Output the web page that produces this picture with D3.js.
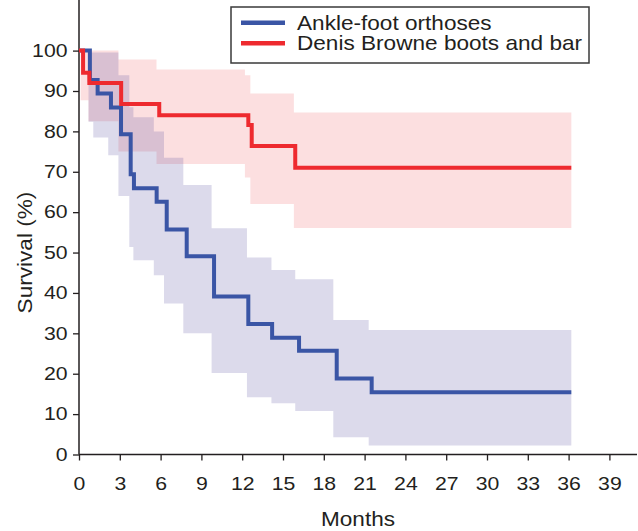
<!DOCTYPE html>
<html>
<head>
<meta charset="utf-8">
<script src="https://cdn.jsdelivr.net/npm/d3@7"></script>
<style>
	body { margin: 0; background: #fff; }
	svg text { font-family: "Liberation Sans", Arial, sans-serif; fill: #231f20; }
</style>
</head>
<body>
<svg id="chart" width="638" height="531"></svg>
<script>
// Kaplan-Meier steps (months, survival %)
const afoTime = [0, 0.8, 1.37, 2.35, 3.09, 3.8, 4.04, 5.71, 6.45, 7.92, 9.93, 12.45, 14.2, 16.18, 18.95, 21.52, 36.2];
const afoSurv = [100, 92.7, 89.4, 85.9, 79.3, 69.4, 65.9, 62.6, 55.7, 49.1, 39.1, 32.3, 28.9, 25.7, 18.8, 15.4, 15.4];
const afoBandTime = [0.7, 1.05, 2.15, 2.9, 3.7, 4.0, 5.5, 6.25, 7.67, 9.75, 12.35, 14.15, 15.9, 18.7, 21.3, 36.2];
const afoLower = [82.4, 78.5, 74.1, 64, 51.4, 48.1, 44.4, 37.4, 30, 20.2, 14.2, 12.7, 10.8, 4.3, 2.2, 2.2];
const afoUpper = [99.5, 99.5, 99.5, 93.9, 86, 83.5, 80, 73.5, 66.7, 56, 48.8, 45.7, 43.4, 33.3, 30.8, 30.8];

const dbbTime = [0, 0.3, 0.76, 3.1, 5.9, 12.45, 12.7, 15.9, 36.2];
const dbbSurv = [100, 94.5, 92, 86.8, 84, 81.6, 76.4, 71, 71];
const dbbBandTime = [0.12, 0.7, 2.9, 5.7, 12.2, 12.6, 15.8, 36.2];
const dbbLower = [87.7, 82.5, 75, 71.9, 68.6, 62, 56.1, 56.1];
const dbbUpper = [100, 100, 97.8, 95.3, 93.9, 89.4, 84.7, 84.7];

const monthTicks = d3.range(0, 40, 3);
const survivalTicks = d3.range(0, 101, 10);
const seriesNames = ["Ankle-foot orthoses", "Denis Browne boots and bar"];

const stretch = 1.13; // the figure's type is a little wider than Liberation Sans
const tickStretch = 1.18;

const svg = d3.select("#chart");
const x = d3.scaleLinear().domain([0, 39]).range([79, 609.4]);
const y = d3.scaleLinear().domain([0, 100]).range([454.5, 50.6]);

const zip = (t, a, b) => t.map((d, i) => ({ t: d, a: a[i], b: b ? b[i] : null }));

const band = d3.area()
	.curve(d3.curveStepAfter)
	.x(d => x(d.t))
	.y0(d => y(d.a))
	.y1(d => y(d.b));
const line = d3.line()
	.curve(d3.curveStepAfter)
	.x(d => x(d.t))
	.y(d => y(d.a));

// confidence bands
svg.append("path")
	.attr("d", band(zip(dbbBandTime, dbbLower, dbbUpper)))
	.attr("fill", "rgb(235,40,45)")
	.attr("fill-opacity", 0.15);
svg.append("path")
	.attr("d", band(zip(afoBandTime, afoLower, afoUpper)))
	.attr("fill", "rgb(70,60,150)")
	.attr("fill-opacity", 0.19);

// axes
const yAxis = svg.append("g")
	.attr("transform", `translate(${x(0)},0)`)
	.call(d3.axisLeft(y).tickValues(survivalTicks).tickSize(6).tickPadding(5));
const xAxis = svg.append("g")
	.attr("transform", `translate(0,${y(0)})`)
	.call(d3.axisBottom(x).tickValues(monthTicks).tickSize(6).tickPadding(17));

[yAxis, xAxis].forEach(g => {
	g.select(".domain").remove();
	g.selectAll(".tick line").attr("stroke", "#231f20").attr("stroke-width", 1.3);
	g.selectAll(".tick text")
		.attr("font-size", 18)
		.attr("fill", "#231f20")
		.attr("transform", `scale(${tickStretch},1)`);
});
yAxis.selectAll(".tick text").attr("x", -11.5 / tickStretch);

svg.append("line")
	.attr("x1", x(0)).attr("x2", x(0))
	.attr("y1", 0).attr("y2", y(0))
	.attr("stroke", "#231f20").attr("stroke-width", 1.5);
svg.append("line")
	.attr("x1", x(0)).attr("x2", 637)
	.attr("y1", y(0)).attr("y2", y(0))
	.attr("stroke", "#231f20").attr("stroke-width", 1.5);

// survival curves
svg.append("path")
	.attr("d", line(zip(afoTime, afoSurv)))
	.attr("fill", "none")
	.attr("stroke", "#3a55a5")
	.attr("stroke-width", 4);
svg.append("path")
	.attr("d", line(zip(dbbTime, dbbSurv)))
	.attr("fill", "none")
	.attr("stroke", "#ee2a2f")
	.attr("stroke-width", 4);

// axis titles
svg.append("text")
	.attr("transform", `translate(${(x(0) + 637) / 2},526) scale(${stretch},1)`)
	.attr("text-anchor", "middle")
	.attr("font-size", 20)
	.text("Months");
svg.append("text")
	.attr("transform", `translate(32,${(y(0) + y(100)) / 2}) rotate(-90) scale(${stretch},1)`)
	.attr("text-anchor", "middle")
	.attr("font-size", 20)
	.text("Survival (%)");

// legend
const legend = svg.append("g").attr("transform", "translate(231,7)");
legend.append("rect")
	.attr("width", 358)
	.attr("height", 56)
	.attr("fill", "#fff")
	.attr("stroke", "#3a3a3a")
	.attr("stroke-width", 1.5);
const items = legend.selectAll(".item")
	.data(seriesNames)
	.join("g")
	.attr("class", "item")
	.attr("transform", (d, i) => `translate(0,${15.8 + i * 20.5})`);
items.append("line")
	.attr("x1", 10).attr("x2", 54)
	.attr("stroke", (d, i) => ["#3a55a5", "#ee2a2f"][i])
	.attr("stroke-width", 4.5);
items.append("text")
	.attr("transform", `translate(66,7) scale(${stretch},1)`)
	.attr("font-size", 20)
	.text(d => d);
</script>
</body>
</html>
